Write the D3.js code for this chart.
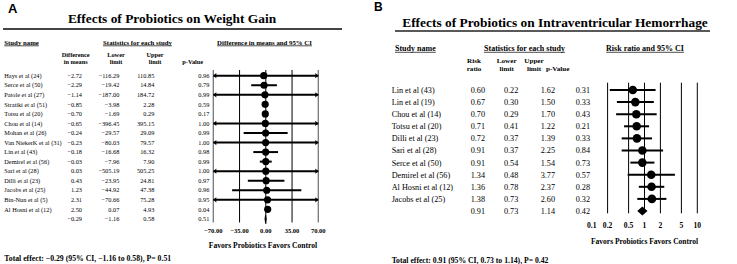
<!DOCTYPE html>
<html><head><meta charset="utf-8">
<script src="https://cdn.jsdelivr.net/npm/d3@7"></script>
<style>
body{margin:0;background:#fff}
svg{display:block}
text{font-family:"Liberation Serif","Times New Roman",serif;fill:#000}
</style>
</head><body>
<svg id="c" width="737" height="264"></svg>
<script>
// ---------- Panel A data ----------
const studiesA = ["Hays et al (24)","Serce et al (50)","Patole et al (27)","Stratiki et al (51)","Totsu et al (20)","Chou et al (14)","Mohan et al (26)","Van NiekerK et al (31)","Lin et al (43)","Demirel et al (56)","Sari et al (28)","Dilli et al (23)","Jacobs et al (25)","Bin-Nun et al (5)","Al Hosni et al (12)"];
const diffA  = [-2.72,-2.29,-1.14,-0.85,-0.70,-0.65,-0.24,-0.23,-0.18,-0.03,0.03,0.43,1.23,2.31,2.50];
const lowerA = [-116.29,-19.42,-187.00,-3.98,-1.69,-396.45,-29.57,-80.03,-16.68,-7.96,-505.19,-23.95,-44.92,-70.66,0.07];
const upperA = [110.85,14.84,184.72,2.28,0.29,395.15,29.09,79.57,16.32,7.90,505.25,24.81,47.38,75.28,4.93];
const pA     = [0.96,0.79,0.99,0.59,0.17,1.00,0.99,1.00,0.98,0.99,1.00,0.97,0.96,0.95,0.04];
const summaryA = [-0.29,-1.16,0.58,0.51];
const ticksA = [-70,-35,0,35,70];

// ---------- Panel B data ----------
const studiesB = ["Lin et al (43)","Lin et al (19)","Chou et al (14)","Totsu et al (20)","Dilli et al (23)","Sari et al (28)","Serce et al (50)","Demirel et al (56)","Al Hosni et al (12)","Jacobs et al (25)"];
const rrB    = [0.60,0.67,0.70,0.71,0.72,0.91,0.91,1.34,1.36,1.38];
const lowerB = [0.22,0.30,0.29,0.41,0.37,0.37,0.54,0.48,0.78,0.73];
const upperB = [1.62,1.50,1.70,1.22,1.39,2.25,1.54,3.77,2.37,2.60];
const pB     = [0.31,0.33,0.43,0.21,0.33,0.84,0.73,0.57,0.28,0.32];
const summaryB = [0.91,0.73,1.14,0.42];
const ticksB = [0.1,0.2,0.5,1,2,5,10];

const svg = d3.select("#c");
const sans = "'Liberation Sans', Arial, sans-serif";

function txt(g, x, y, s, size, opts={}) {
  const t = g.append("text").attr("x", x).attr("y", y).text(s)
    .style("font-size", size + "px")
    .attr("text-anchor", opts.anchor || "start");
  if (opts.bold) t.style("font-weight", "bold");
  if (opts.family) t.style("font-family", opts.family);
  if (opts.underline) {
    const w = t.node().getComputedTextLength();
    let x0 = x;
    if (opts.anchor === "middle") x0 = x - w / 2;
    if (opts.anchor === "end") x0 = x - w;
    g.append("line").attr("x1", x0).attr("x2", x0 + w)
      .attr("y1", y + 1.3).attr("y2", y + 1.3)
      .attr("stroke", "#000").attr("stroke-width", 0.7);
  }
  return t;
}
const f2 = d3.format(".2f");

// ================= PANEL A =================
{
  const g = svg.append("g");
  txt(g, 8, 12.7, "A", 13, {bold:true, family:sans});
  txt(g, 172, 22.5, "Effects of Probiotics on Weight Gain", 13.4, {bold:true, anchor:"middle"});
  g.append("line").attr("x1",3).attr("x2",342).attr("y1",29).attr("y2",29)
    .attr("stroke","#444").attr("stroke-width",1.8);

  const hs = 6.8;
  txt(g, 4.3, 44.5, "Study name", hs, {bold:true, underline:true});
  txt(g, 137.5, 44.5, "Statistics for each study", hs, {bold:true, underline:true, anchor:"middle"});
  txt(g, 264.5, 44.5, "Difference in means and 95% CI", hs, {bold:true, underline:true, anchor:"middle"});
  const ss = 6.3;
  txt(g, 75.7, 56.8, "Difference", ss, {bold:true, anchor:"middle"});
  txt(g, 75.7, 63.7, "in means", ss, {bold:true, anchor:"middle"});
  txt(g, 116, 56.8, "Lower", ss, {bold:true, anchor:"middle"});
  txt(g, 116, 63.7, "limit", ss, {bold:true, anchor:"middle"});
  txt(g, 155, 56.8, "Upper", ss, {bold:true, anchor:"middle"});
  txt(g, 155, 63.7, "limit", ss, {bold:true, anchor:"middle"});
  txt(g, 192.7, 64.3, "p-Value", ss, {bold:true, anchor:"middle"});

  const x = d3.scaleLinear().domain([-70, 70]).range([213.3, 318.3]);
  const y = d3.scaleLinear().domain([0, 15]).range([75.7, 218.9]);

  ticksA.forEach(t => {
    const edge = (t === -70 || t === 70);
    g.append("line").attr("x1", x(t)).attr("x2", x(t))
      .attr("y1", 70).attr("y2", t === 0 ? 224 : 222.5)
      .attr("stroke", edge ? "#777" : "#000").attr("stroke-width", edge ? 1.3 : 1);
  });

  const ds = 6.3;
  studiesA.forEach((s, i) => {
    const yy = y(i), b = yy + 2.2;
    txt(g, 4.3, b, s, ds);
    txt(g, 82, b, f2(diffA[i]), ds, {anchor:"end"});
    txt(g, 119.3, b, f2(lowerA[i]), ds, {anchor:"end"});
    txt(g, 154.3, b, f2(upperA[i]), ds, {anchor:"end"});
    txt(g, 209.3, b, f2(pA[i]), ds, {anchor:"end"});
    const lo = Math.max(-70, lowerA[i]), hi = Math.min(70, upperA[i]);
    g.append("line").attr("x1", x(lo)).attr("x2", x(hi)).attr("y1", yy).attr("y2", yy)
      .attr("stroke", "#000").attr("stroke-width", 2);
    if (lowerA[i] < -70) {
      g.append("path").attr("d", `M${x(-70)},${yy} l3,-2.6 v5.2 z`).attr("fill","#000");
    }
    if (upperA[i] > 70) {
      g.append("path").attr("d", `M${x(70)},${yy} l-3,-2.6 v5.2 z`).attr("fill","#000");
    }
    g.append("circle").attr("cx", x(diffA[i])).attr("cy", yy).attr("r", 3.6).attr("fill", "#000");
  });
  {
    const yy = y(15), b = yy + 2.2;
    txt(g, 82, b, f2(summaryA[0]), ds, {anchor:"end"});
    txt(g, 119.3, b, f2(summaryA[1]), ds, {anchor:"end"});
    txt(g, 154.3, b, f2(summaryA[2]), ds, {anchor:"end"});
    txt(g, 209.3, b, f2(summaryA[3]), ds, {anchor:"end"});
    const xl = x(summaryA[1]), xr = x(summaryA[2]), xm = x(summaryA[0]);
    g.append("path").attr("d", `M${xl},${yy} L${xm},${yy-4} L${xr},${yy} L${xm},${yy+4} Z`)
      .attr("fill", "#000").attr("stroke","#000").attr("stroke-width",0.8);
  }
  ticksA.forEach(t => txt(g, x(t), 233, f2(t), 6.5, {bold:true, anchor:"middle"}));
  txt(g, 263, 247.5, "Favors Probiotics Favors Control", 7.6, {bold:true, anchor:"middle"});
  txt(g, 4.3, 260.5, `Total effect: ${f2(summaryA[0])} (95% CI, ${f2(summaryA[1])} to ${f2(summaryA[2])}), P= ${f2(summaryA[3])}`, 7.75, {bold:true});
}

// ================= PANEL B =================
{
  const g = svg.append("g");
  txt(g, 374, 10.5, "B", 12, {bold:true, family:sans});
  txt(g, 555, 26.5, "Effects of Probiotics on Intraventricular Hemorrhage", 13.4, {bold:true, anchor:"middle"});
  g.append("line").attr("x1",395).attr("x2",710).attr("y1",31).attr("y2",31)
    .attr("stroke","#222").attr("stroke-width",1.5);

  const hs = 8;
  txt(g, 395, 51, "Study name", hs, {bold:true, underline:true});
  txt(g, 524.5, 51, "Statistics for each study", hs, {bold:true, underline:true, anchor:"middle"});
  txt(g, 645, 51, "Risk ratio and 95% CI", hs, {bold:true, underline:true, anchor:"middle"});
  const ss = 7.1;
  txt(g, 474, 62.8, "Risk", ss, {bold:true, anchor:"middle"});
  txt(g, 474, 70.5, "ratio", ss, {bold:true, anchor:"middle"});
  txt(g, 506.7, 62.8, "Lower", ss, {bold:true, anchor:"middle"});
  txt(g, 506.7, 70.5, "limit", ss, {bold:true, anchor:"middle"});
  txt(g, 534, 62.8, "Upper", ss, {bold:true, anchor:"middle"});
  txt(g, 534, 70.5, "limit", ss, {bold:true, anchor:"middle"});
  txt(g, 557.7, 70.5, "p-Value", ss, {bold:true, anchor:"middle"});

  const x = d3.scaleLog().domain([0.1, 10]).range([591.7, 697.3]);
  const y = d3.scaleLinear().domain([0, 10]).range([90, 211]);

  ticksB.filter(t => t !== 0.1).forEach(t => {
    g.append("line").attr("x1", x(t)).attr("x2", x(t))
      .attr("y1", 82.7).attr("y2", 213.3)
      .attr("stroke", "#000").attr("stroke-width", 1);
  });

  const ds = 8.2;
  studiesB.forEach((s, i) => {
    const yy = y(i), b = yy + 2.9;
    txt(g, 391.7, b, s, ds);
    txt(g, 485, b, f2(rrB[i]), ds, {anchor:"end"});
    txt(g, 518.3, b, f2(lowerB[i]), ds, {anchor:"end"});
    txt(g, 555, b, f2(upperB[i]), ds, {anchor:"end"});
    txt(g, 590, b, f2(pB[i]), ds, {anchor:"end"});
    g.append("line").attr("x1", x(lowerB[i])).attr("x2", x(upperB[i])).attr("y1", yy).attr("y2", yy)
      .attr("stroke", "#000").attr("stroke-width", 2);
    g.append("circle").attr("cx", x(rrB[i])).attr("cy", yy).attr("r", 4.3).attr("fill", "#000");
  });
  {
    const yy = y(10), b = yy + 2.9;
    txt(g, 485, b, f2(summaryB[0]), ds, {anchor:"end"});
    txt(g, 518.3, b, f2(summaryB[1]), ds, {anchor:"end"});
    txt(g, 555, b, f2(summaryB[2]), ds, {anchor:"end"});
    txt(g, 590, b, f2(summaryB[3]), ds, {anchor:"end"});
    const xl = x(summaryB[1]), xr = x(summaryB[2]), xm = x(summaryB[0]);
    g.append("path").attr("d", `M${xl},${yy} L${xm},${yy-4.4} L${xr},${yy} L${xm},${yy+4.4} Z`)
      .attr("fill", "#000");
  }
  ticksB.forEach(t => txt(g, x(t), 228.3, String(t), 7.6, {bold:true, anchor:"middle"}));
  txt(g, 644.5, 243.6, "Favors Probiotics Favors Control", 7.5, {bold:true, anchor:"middle"});
  txt(g, 391.7, 262.5, `Total effect: ${f2(summaryB[0])} (95% CI, ${f2(summaryB[1])} to ${f2(summaryB[2])}), P= ${f2(summaryB[3])}`, 7.7, {bold:true});
}
</script>
</body></html>
